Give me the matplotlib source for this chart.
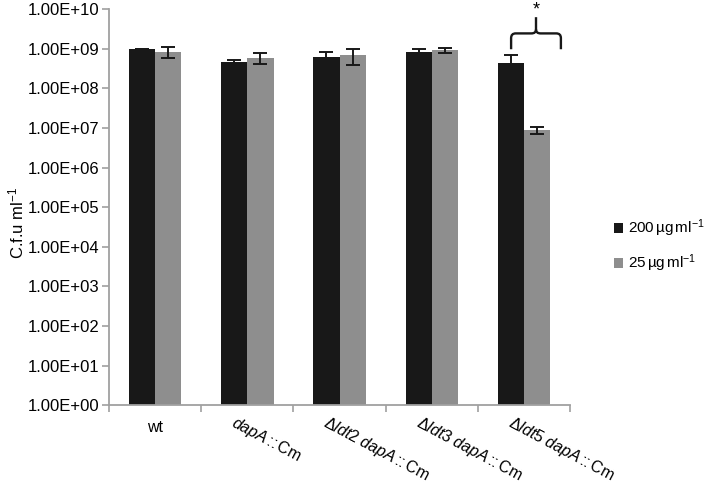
import numpy as np
import matplotlib.pyplot as plt
from matplotlib.path import Path
from matplotlib.patches import PathPatch

plt.rcParams['font.family'] = ['Liberation Sans', 'DejaVu Sans']
plt.rcParams['mathtext.fontset'] = 'custom'
plt.rcParams['mathtext.rm'] = 'Liberation Sans'
plt.rcParams['mathtext.it'] = 'Liberation Sans:italic'

# =========================
# DATOS
# =========================

cepas = ["wt",
         r"$\it{dapA}\,$::$\,$Cm",
         r"$\Delta\it{ldt2}$ $\it{dapA}\,$::$\,$Cm",
         r"$\Delta\it{ldt3}$ $\it{dapA}\,$::$\,$Cm",
         r"$\Delta\it{ldt5}$ $\it{dapA}\,$::$\,$Cm"]

cfu_200 = [1.0e9, 4.7e8, 6.3e8, 8.3e8, 4.5e8]
err_200 = [2.0e7, 6.0e7, 1.8e8, 1.9e8, 2.6e8]

cfu_25 = [8.5e8, 6.0e8, 7.0e8, 9.4e8, 8.7e6]
err_25 = [2.6e8, 1.9e8, 3.1e8, 1.4e8, 1.7e6]

etiquetas = [r"200$\,$µg$\,$ml$^{-1}$", r"25$\,$µg$\,$ml$^{-1}$"]

# =========================
# GRAFICO
# =========================

fig = plt.figure(figsize=(7.10, 4.87), dpi=100)
ax = fig.add_axes([0.1535, 0.168, 0.6495, 0.813])

x = np.arange(len(cepas))
ancho = 0.285
gris_eje = "#a0a0a0"
negro = "#181818"
gris = "#8e8e8e"
err_kw = dict(ecolor=negro, capsize=5, elinewidth=1.4, capthick=1.4)

ax.bar(x - ancho / 2, cfu_200, ancho, color=negro, label=etiquetas[0],
       yerr=err_200, error_kw=err_kw)
ax.bar(x + ancho / 2, cfu_25, ancho, color=gris, label=etiquetas[1],
       yerr=err_25, error_kw=err_kw)

ax.set_yscale("log")
ax.set_ylim(1, 1e10)
ax.set_xlim(-0.5, len(cepas) - 0.5)
ax.set_yticks([10.0 ** k for k in range(11)])
ax.set_yticklabels(["1.00E+%02d" % k for k in range(11)], fontsize=12)
ax.minorticks_off()

ax.set_xticks(np.arange(len(cepas) + 1) - 0.5)
ax.set_xticklabels([])
ax.tick_params(axis="both", color=gris_eje, length=5, width=1.2)
ax.tick_params(axis="y", pad=2)

for s in ["top", "right"]:
    ax.spines[s].set_visible(False)
for s in ["left", "bottom"]:
    ax.spines[s].set_color(gris_eje)
    ax.spines[s].set_linewidth(1.3)

# etiquetas del eje x
trans = ax.get_xaxis_transform()
ax.text(0, -0.056, cepas[0], transform=trans, ha="center", va="center", fontsize=11.5)
for i in range(1, len(cepas)):
    ax.text(i - 0.11, -0.02, cepas[i], transform=trans, ha="left", va="top",
            rotation=-28, rotation_mode="anchor", fontsize=11.5)

ax.set_ylabel(r"C.f.u ml$^{-1}$", fontsize=12)
ax.yaxis.set_label_coords(-0.18, 0.46)

# llave y asterisco sobre el ultimo grupo
g = len(cepas) - 1
izq, der, centro = g - 0.14, g + 0.40, g + 0.13
y0, y1, y2 = 8.99, 9.39, 9.8
r = 0.05
verts = [(izq, y0), (izq, y1 - 0.12), (izq, y1), (izq + r, y1),
         (centro - r, y1), (centro, y1), (centro, y1 + 0.1), (centro, y2),
         (centro, y1 + 0.1), (centro, y1), (centro + r, y1),
         (der - r, y1), (der, y1), (der, y1 - 0.12), (der, y0)]
codes = [Path.MOVETO, Path.LINETO, Path.CURVE3, Path.CURVE3,
         Path.LINETO, Path.CURVE3, Path.CURVE3, Path.LINETO,
         Path.MOVETO, Path.CURVE3, Path.CURVE3,
         Path.LINETO, Path.CURVE3, Path.CURVE3, Path.LINETO]
verts = [(a, 10.0 ** b) for a, b in verts]
ax.add_patch(PathPatch(Path(verts, codes), fill=False, lw=1.7, color=negro, clip_on=False))
ax.text(centro, 10.0 ** 9.97, "*", ha="center", va="center", fontsize=13, clip_on=False)

fig.legend(loc="center left", bbox_to_anchor=(0.845, 0.495), frameon=False, fontsize=11,
           handlelength=0.6, handleheight=0.6, handletextpad=0.35, labelspacing=0.9)

fig.savefig("out.png", dpi=100)
